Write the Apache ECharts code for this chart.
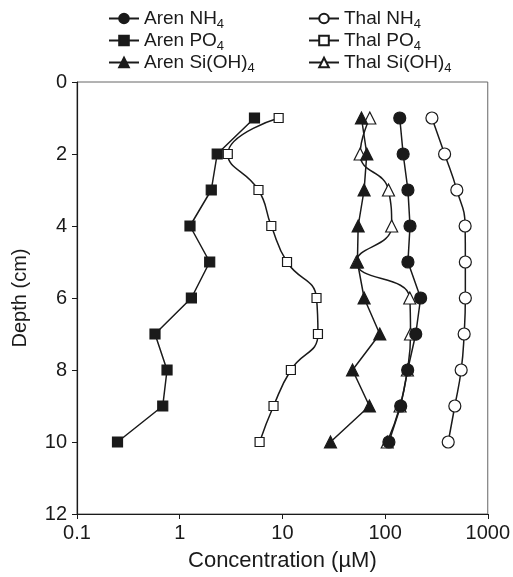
<!DOCTYPE html>
<html><head><meta charset="utf-8">
<script src="https://cdn.jsdelivr.net/npm/echarts@6/dist/echarts.min.js"></script>
<style>html,body{margin:0;padding:0;background:#fff}#c{width:513px;height:577px}</style>
</head><body><div id="c"></div>
<script>
const depths = [1, 2, 3, 4, 5, 6, 7, 8, 9, 10];
const arenNH4 = [139, 150, 167, 175, 167, 222, 199, 166, 142, 109];
const arenPO4 = [5.35, 2.32, 2.03, 1.26, 1.96, 1.30, 0.575, 0.753, 0.684, 0.248];
const arenSi  = [58.9, 66.4, 62.5, 54.7, 53.8, 62.5, 88.8, 48.2, 70.4, 29.4];
const thalNH4 = [286, 380, 500, 602, 605, 605, 589, 551, 478, 412];
const thalPO4 = [9.2, 2.94, 5.85, 7.8, 11.1, 21.5, 22.2, 12.1, 8.2, 6.0];
const thalSi  = [71, 57.2, 108, 116, 52.6, 174, 177, 165, 140, 105];
const seriesNames = ['Aren NH4', 'Aren PO4', 'Aren Si(OH)4', 'Thal NH4', 'Thal PO4', 'Thal Si(OH)4'];

const FONT = 'Liberation Sans';
const INK = '#1a1a1a';
const pts = vals => vals.map((v, i) => [v, depths[i]]);

function mk(name, vals, symbol, size, filled, smooth) {
  return {
    name, type: 'line', data: pts(vals), symbol, symbolSize: size, smooth,
    lineStyle: { color: INK, width: 1.5 },
    itemStyle: { color: filled ? INK : '#fff', borderColor: INK, borderWidth: 1.2 },
    emphasis: { disabled: true }, animation: false, z: filled ? 3 : 2
  };
}

const legendFmt = name => {
  const m = name.match(/^(.*)(4)$/);
  return '{t|' + m[1] + '}{s|' + m[2] + '}';
};
const legendText = {
  fontFamily: FONT, color: INK,
  rich: {
    t: { fontSize: 19, fontFamily: FONT, color: INK, lineHeight: 20 },
    s: { fontSize: 13, fontFamily: FONT, color: INK, padding: [12, 0, 0, 0] }
  }
};

const chart = echarts.init(document.getElementById('c'), null, { renderer: 'canvas' });
chart.setOption({
  animation: false,
  backgroundColor: '#fff',
  legend: [
    { data: seriesNames.slice(0, 3), orient: 'vertical', left: 103, top: 4, itemWidth: 30, itemHeight: 12,
      itemGap: 0, formatter: legendFmt, textStyle: legendText, selectedMode: false },
    { data: seriesNames.slice(3), orient: 'vertical', left: 303, top: 4, itemWidth: 30, itemHeight: 12,
      itemGap: 0, formatter: legendFmt, textStyle: legendText, selectedMode: false }
  ],
  grid: { left: 77, right: 23, top: 82, bottom: 62, show: true, borderColor: '#666', borderWidth: 1 },
  xAxis: {
    type: 'log', logBase: 10, min: 0.1, max: 1000,
    name: 'Concentration (µM)', nameLocation: 'middle', nameGap: 36,
    nameTextStyle: { fontFamily: FONT, fontSize: 22, color: INK },
    axisLine: { show: true, onZero: false, lineStyle: { color: INK, width: 1.2 } },
    axisTick: { show: true, length: 5, lineStyle: { color: INK } },
    minorTick: { show: false },
    splitLine: { show: false },
    axisLabel: { fontFamily: FONT, fontSize: 20, color: INK, margin: 9,
      formatter: v => String(+(+v).toPrecision(3)) }
  },
  yAxis: {
    type: 'value', inverse: true, min: 0, max: 12, interval: 2,
    name: 'Depth (cm)', nameLocation: 'middle', nameGap: 47, nameRotate: 90,
    nameTextStyle: { fontFamily: FONT, fontSize: 20, color: INK },
    axisLine: { show: true, onZero: false, lineStyle: { color: INK, width: 1.2 } },
    axisTick: { show: true, length: 5, lineStyle: { color: INK } },
    splitLine: { show: false },
    axisLabel: { fontFamily: FONT, fontSize: 20, color: INK, margin: 10 }
  },
  series: [
    mk('Aren NH4', arenNH4, 'circle', 12, true, false),
    mk('Aren PO4', arenPO4, 'rect', 10, true, false),
    mk('Aren Si(OH)4', arenSi, 'triangle', 12, true, false),
    mk('Thal NH4', thalNH4, 'circle', 12, false, true),
    mk('Thal PO4', thalPO4, 'rect', 9, false, true),
    mk('Thal Si(OH)4', thalSi, 'triangle', 12, false, true)
  ]
});
</script></body></html>
